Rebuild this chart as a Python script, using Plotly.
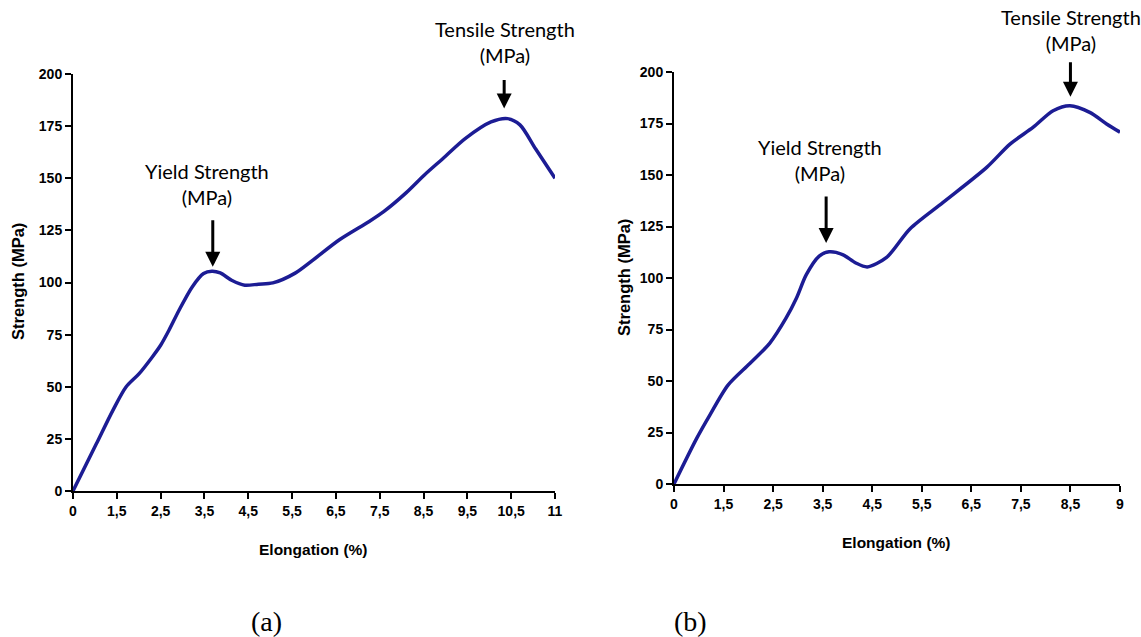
import plotly.graph_objects as go

# ---- data (x given in axis-position units; tick labels below) ----
tick_labels_a = ["0", "1,5", "2,5", "3,5", "4,5", "5,5", "6,5", "7,5", "8,5", "9,5", "10,5", "11"]
tick_labels_b = ["0", "1,5", "2,5", "3,5", "4,5", "5,5", "6,5", "7,5", "8,5", "9"]

xa = [0, 0.53, 0.91, 1.21, 1.51, 1.81, 2.0, 2.19, 2.42, 2.72, 2.98, 3.17, 3.36, 3.62, 3.92, 4.23,
      4.56, 5.07, 5.49, 6.08, 6.76, 7.09, 7.6, 8.02, 8.45, 8.95, 9.54, 9.92, 10.2, 10.56, 11.0]
ya = [0, 22.5, 38.7, 49.9, 56.3, 64.3, 69.9, 77.1, 86.7, 97.9, 104.3, 105.4, 104.6, 101.1, 98.7, 99.2,
      99.8, 104.5, 111, 120.5, 129.3, 134, 143, 151.6, 159.6, 169, 177, 178.6, 175.6, 164, 150]

xb = [0, 0.455, 0.72, 1.09, 1.53, 1.93, 2.26, 2.47, 2.67, 2.93, 3.13, 3.4, 3.67, 3.9, 4.29, 4.76,
      5.43, 6.31, 6.78, 7.25, 7.65, 7.99, 8.39, 8.73, 9.0]
yb = [0, 22, 33.3, 48, 58.5, 68.3, 80.5, 90.2, 101.6, 110.6, 112.7, 111.4, 107.3, 105.4, 110, 123.8,
      136.7, 153.7, 165, 173.2, 181.2, 183.6, 180.4, 174.8, 170.8]

y_ticks = [0, 25, 50, 75, 100, 125, 150, 175, 200]

W, H = 1141, 637
LINE_COLOR = "#1c1c94"

fig = go.Figure()
fig.add_trace(go.Scatter(x=xa, y=ya, mode="lines", line=dict(color=LINE_COLOR, width=3.5, shape="spline", smoothing=0.8),
                         xaxis="x", yaxis="y", showlegend=False, cliponaxis=False))
fig.add_trace(go.Scatter(x=xb, y=yb, mode="lines", line=dict(color=LINE_COLOR, width=3.5, shape="spline", smoothing=0.8),
                         xaxis="x2", yaxis="y2", showlegend=False, cliponaxis=False))

tickfont = dict(family="Liberation Sans, Arial", size=14, color="black", weight="bold")
axis_common = dict(showgrid=False, zeroline=False, showline=True, linecolor="black", linewidth=2,
                   ticks="outside", ticklen=6, tickwidth=2, tickcolor="black", tickfont=tickfont,
                   automargin=False)

def px(x):
    return x / W

def py(y):
    return 1 - y / H

fig.update_layout(
    template="none",
    width=W, height=H, margin=dict(l=0, r=0, t=0, b=0, autoexpand=False),
    paper_bgcolor="white", plot_bgcolor="white",
    xaxis=dict(domain=[px(73), px(555)], range=[0, 11], tickmode="array",
               tickvals=list(range(len(tick_labels_a))), ticktext=tick_labels_a, anchor="y", **axis_common),
    yaxis=dict(domain=[py(491), py(74)], range=[0, 200], tickmode="array", tickvals=y_ticks,
               anchor="x", **axis_common),
    xaxis2=dict(domain=[px(674), px(1120)], range=[0, 9], tickmode="array",
                tickvals=list(range(len(tick_labels_b))), ticktext=tick_labels_b, anchor="y2", **axis_common),
    yaxis2=dict(domain=[py(484), py(72)], range=[0, 200], tickmode="array", tickvals=y_ticks,
                anchor="x2", **axis_common),
)

ann_font = dict(family="Lato, Open Sans", size=20, color="black")
title_font_y = dict(family="Liberation Sans, Arial", size=16.5, color="black", weight="bold")
title_font_x = dict(family="Liberation Sans, Arial", size=15.5, color="black", weight="bold")
cap_font = dict(family="Liberation Serif, Times New Roman", size=28, color="black")

def label(text, x, y, font, angle=0):
    return dict(text=text, x=px(x), y=py(y), xref="paper", yref="paper", xanchor="center",
                yanchor="middle", showarrow=False, font=font, align="center", textangle=angle)

def arrow(x, y, xr, yr, ay):
    return dict(x=x, y=y, xref=xr, yref=yr, ax=0, ay=ay, showarrow=True, arrowhead=2,
                arrowsize=1, arrowwidth=3, arrowcolor="black", text="")

annotations = [
    label("Tensile Strength<br>(MPa)", 505, 42, ann_font),
    label("Yield Strength<br>(MPa)", 207, 184, ann_font),
    label("Tensile Strength<br>(MPa)", 1071, 30, ann_font),
    label("Yield Strength<br>(MPa)", 820, 160, ann_font),
    arrow(9.84, 183.5, "x", "y", -30),
    arrow(3.19, 107.5, "x", "y", -48),
    arrow(8.0, 188, "x2", "y2", -36),
    arrow(3.07, 117, "x2", "y2", -48),
    label("Strength (MPa)", 18, 282, title_font_y, -90),
    label("Elongation (%)", 313, 549, title_font_x),
    label("Strength (MPa)", 624, 278, title_font_y, -90),
    label("Elongation (%)", 897, 542, title_font_x),
    label("(a)", 266, 621, cap_font),
    label("(b)", 690, 621, cap_font),
]
fig.update_layout(annotations=annotations)

fig.write_html(
    "out.html",
    config={"displayModeBar": False},
    post_script="document.body.style.margin='0';document.body.style.padding='0';"
                "document.body.style.overflow='hidden';",
)
